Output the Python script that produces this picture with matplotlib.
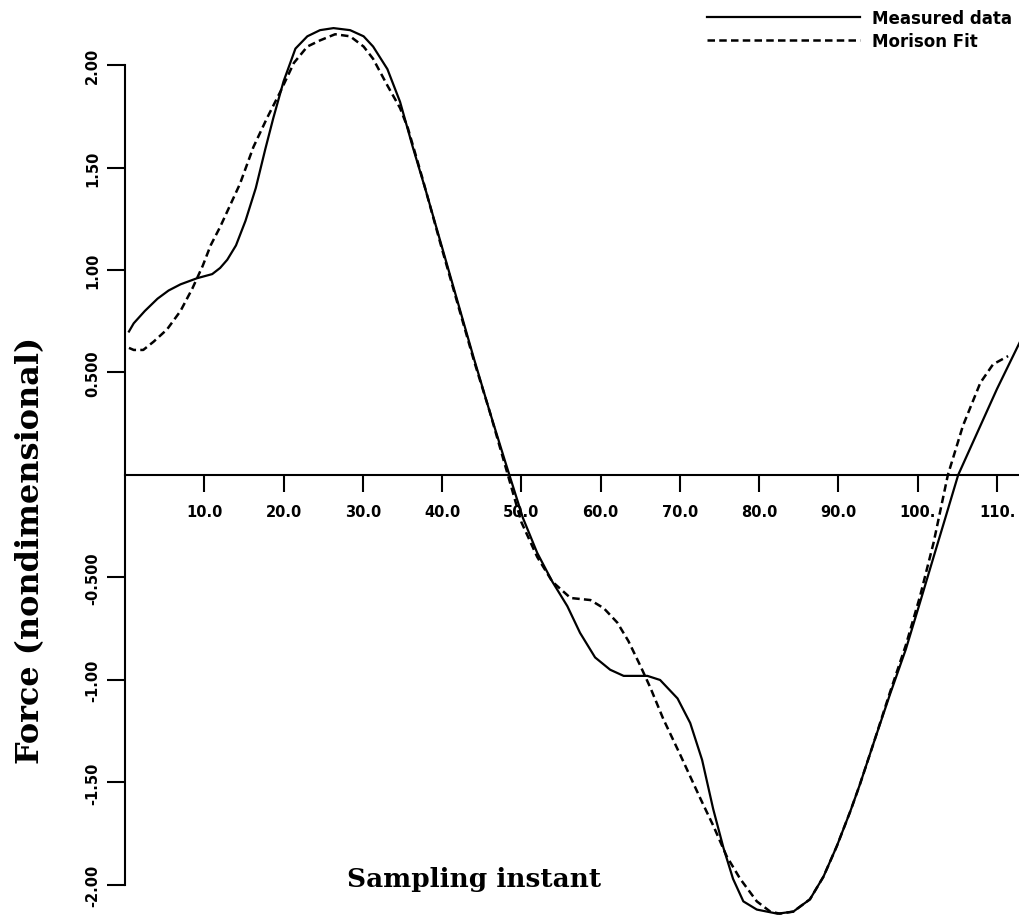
import numpy as np
import matplotlib
matplotlib.use("Agg")
import matplotlib.pyplot as plt

# measured force (solid line)
x_meas = [0.5, 1.1, 2.5, 4.1, 5.5, 7.0, 9.1, 11.0, 12.0, 12.9, 14.0, 15.2, 16.5, 17.7, 18.7,
          20.0, 21.5, 23.0, 24.6, 26.3, 28.4, 30.1, 31.3, 33.1, 34.7, 36.3, 38.0, 40.0, 42.0,
          44.0, 46.0, 48.0, 50.2, 52.0, 53.9, 55.8, 57.4, 59.3, 61.2, 62.9, 65.9, 67.5, 69.7,
          71.3, 72.8, 74.2, 75.5, 76.7, 78.0, 79.7, 82.3, 84.3, 86.4, 88.1, 89.8, 91.5, 92.7,
          94.5, 96.5, 98.5, 100.3, 102.0, 103.4, 105.1, 107.9, 110.0, 112.9]
y_meas = [0.70, 0.74, 0.80, 0.86, 0.90, 0.93, 0.96, 0.98, 1.01, 1.05, 1.12, 1.24, 1.40, 1.59, 1.74,
          1.92, 2.08, 2.14, 2.17, 2.18, 2.17, 2.14, 2.09, 1.98, 1.82, 1.60, 1.38, 1.11, 0.84,
          0.57, 0.31, 0.06, -0.21, -0.38, -0.52, -0.64, -0.77, -0.89, -0.95, -0.98, -0.98, -1.00, -1.09,
          -1.21, -1.39, -1.63, -1.82, -1.97, -2.08, -2.12, -2.14, -2.13, -2.07, -1.96, -1.81, -1.64, -1.51,
          -1.30, -1.07, -0.85, -0.62, -0.40, -0.22, 0.0, 0.24, 0.42, 0.65]

# Morison fit (dashed line)
x_fit = [0.5, 1.1, 2.3, 3.6, 5.3, 7.0, 8.5, 9.8, 10.8, 12.0, 14.5, 16.2, 17.9, 19.6, 21.3,
         23.0, 24.6, 26.5, 28.4, 30.1, 31.3, 33.1, 34.7, 35.7, 37.5, 40.0, 42.0, 44.0, 46.0,
         48.0, 50.0, 52.0, 53.9, 56.2, 58.7, 60.4, 62.1, 63.5, 65.0, 66.3, 67.9, 70.1, 72.6,
         74.2, 75.9, 77.6, 79.7, 81.4, 82.6, 84.3, 86.4, 88.1, 89.8, 91.5, 92.7, 94.5, 96.5,
         98.5, 100.3, 102.0, 103.8, 105.7, 107.9, 109.5, 111.4]
y_fit = [0.62, 0.61, 0.61, 0.65, 0.71, 0.80, 0.91, 1.02, 1.12, 1.21, 1.42, 1.60, 1.74, 1.87, 2.01,
         2.09, 2.12, 2.15, 2.14, 2.09, 2.03, 1.90, 1.79, 1.69, 1.45, 1.10, 0.83, 0.56, 0.31,
         0.04, -0.23, -0.40, -0.52, -0.60, -0.61, -0.65, -0.72, -0.81, -0.93, -1.04, -1.19, -1.37, -1.58,
         -1.71, -1.86, -1.97, -2.08, -2.13, -2.14, -2.13, -2.07, -1.96, -1.81, -1.64, -1.51, -1.30, -1.06,
         -0.83, -0.59, -0.33, 0.0, 0.24, 0.45, 0.54, 0.58]

xticks = [10, 20, 30, 40, 50, 60, 70, 80, 90, 100, 110]
xticklabels = ['10.0', '20.0', '30.0', '40.0', '50.0', '60.0', '70.0', '80.0', '90.0', '100.', '110.']
yticks = [-2.0, -1.5, -1.0, -0.5, 0.5, 1.0, 1.5, 2.0]
yticklabels = ['-2.00', '-1.50', '-1.00', '-0.500', '0.500', '1.00', '1.50', '2.00']

fig = plt.figure(figsize=(10.2, 9.2), dpi=100)
ax = fig.add_axes([125/1020, 0, 895/1020, 1])

ax.plot(x_meas, y_meas, color='black', lw=1.6, label='Measured data')
ax.plot(x_fit, y_fit, color='black', lw=1.8, dashes=(3, 1.7), label='Morison Fit')

ax.set_xlim(0, 112.9)
ax.set_ylim(-2.166, 2.322)

# axes cross at zero, like the original plotter output
for s in ['top', 'right']:
    ax.spines[s].set_visible(False)
ax.spines['bottom'].set_position(('data', 0))
ax.spines['bottom'].set_bounds(0, 112.9)
ax.spines['left'].set_bounds(-2, 2)
ax.spines['bottom'].set_linewidth(1.5)
ax.spines['left'].set_linewidth(1.5)

ax.set_xticks(xticks)
ax.set_xticklabels(xticklabels, fontweight='bold', fontsize=10.5)
ax.set_yticks(yticks)
ax.set_yticklabels(yticklabels, fontweight='bold', fontsize=10.5, rotation=90, va='center')
ax.tick_params(axis='x', direction='out', length=12, width=1.5, pad=9)
ax.tick_params(axis='y', direction='out', length=13, width=1.5, pad=5)

ax.set_xlabel('Sampling instant', fontsize=19, fontweight='bold', family='DejaVu Serif')
ax.xaxis.set_label_coords((474 - 125) / 895, 1 - 880 / 920)
ax.xaxis.label.set_va('center')
ax.set_ylabel('Force (nondimensional)', fontsize=23, fontweight='bold', family='DejaVu Serif')
ax.yaxis.set_label_coords((46 - 125) / 895, 1 - 550 / 920)

fig.legend(loc='upper right', bbox_to_anchor=(1012/1020, 1 - 10/920), frameon=False,
           borderpad=0, borderaxespad=0, handlelength=9.2, handletextpad=0.7,
           labelspacing=0.3, prop={'weight': 'bold', 'size': 12})

fig.savefig('out.png', dpi=100, facecolor='white')
